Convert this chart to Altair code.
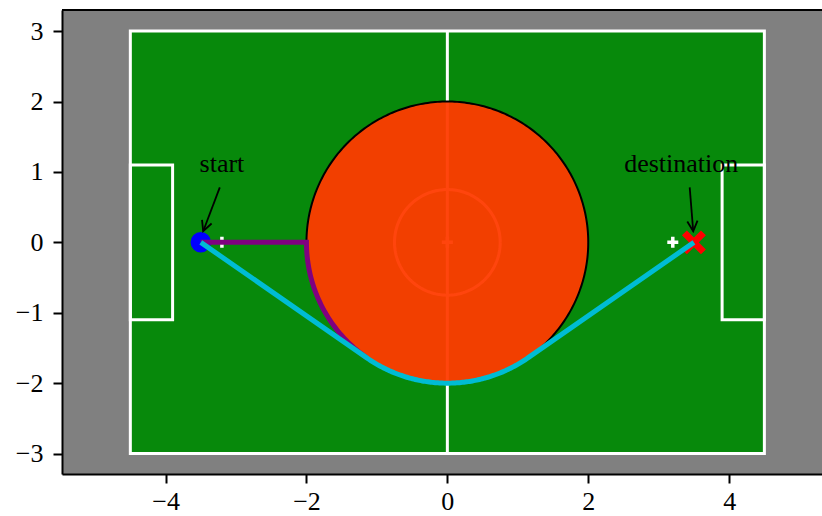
import math

import altair as alt
import numpy as np
import pandas as pd

# ---- pitch geometry (metres) ----
field_x = [-4.5, 4.5]
field_y = [-3.0, 3.0]
goal_box_x0 = [-4.5, 3.9]
goal_box_x1 = [-3.9, 4.5]
goal_box_y = [-1.1, 1.1]
centre_circle_radius = 0.75
spot_x = [-3.2, 0.0, 3.2]
spot_y = [0.0, 0.0, 0.0]

# ---- obstacle and route endpoints ----
obstacle_centre = (0.0, 0.0)
obstacle_radius = 2.0
start_xy = (-3.5, 0.0)
goal_xy = (3.5, 0.0)
contact_xy = (-2.0, 0.0)  # where the straight route runs into the obstacle

# ---- annotations ----
label_text = ["start", "destination"]
label_x = [-3.2, 3.32]
label_y = [1.0, 1.0]
arrow_tail_x = [-3.23, 3.44]
arrow_tail_y = [0.78, 0.78]
arrow_tip_x = [-3.466, 3.49]
arrow_tip_y = [0.158, 0.158]

x_ticks = [-4, -2, 0, 2, 4]
y_ticks = [-3, -2, -1, 0, 1, 2, 3]
x_domain = [-5.47, 5.318]
y_domain = [-3.29, 3.30]

W, H = 760, 464
FONT = "Liberation Serif"

X_SCALE = alt.Scale(domain=x_domain, nice=False, zero=False)
Y_SCALE = alt.Scale(domain=y_domain, nice=False, zero=False)
X_AXIS = alt.Axis(values=x_ticks, title=None, labelPadding=5)
Y_AXIS = alt.Axis(values=y_ticks, title=None, labelPadding=10)


def xq(field):
    return alt.X(f"{field}:Q", scale=X_SCALE, axis=X_AXIS)


def yq(field):
    return alt.Y(f"{field}:Q", scale=Y_SCALE, axis=Y_AXIS)


def arc_points(cx, cy, r, a0, a1, n=120):
    t = np.radians(np.linspace(a0, a1, n))
    return list(cx + r * np.cos(t)), list(cy + r * np.sin(t))


def path_frame(xs, ys):
    return pd.DataFrame({"x": xs, "y": ys, "i": range(len(xs))})


def xy_enc(**extra):
    return dict(x=xq("x"), y=yq("y"), **extra)


def rect_enc():
    return dict(x=xq("x"), x2="x2:Q", y=yq("y"), y2="y2:Q")


# tangent angles from the obstacle centre to the start / goal
cx, cy = obstacle_centre
d_start = math.hypot(start_xy[0] - cx, start_xy[1] - cy)
d_goal = math.hypot(goal_xy[0] - cx, goal_xy[1] - cy)
a_start = math.degrees(math.atan2(start_xy[1] - cy, start_xy[0] - cx)) % 360
a_goal = math.degrees(math.atan2(goal_xy[1] - cy, goal_xy[0] - cx)) % 360 or 360.0
t_start = a_start + math.degrees(math.acos(obstacle_radius / d_start))
t_goal = a_goal - math.degrees(math.acos(obstacle_radius / d_goal))

# smooth route: tangent -> arc around obstacle -> tangent
ax_, ay_ = arc_points(cx, cy, obstacle_radius, t_start, t_goal)
smooth = path_frame([start_xy[0]] + ax_ + [goal_xy[0]], [start_xy[1]] + ay_ + [goal_xy[1]])

# naive route: straight to the obstacle, then sliding along its edge
bx_, by_ = arc_points(cx, cy, obstacle_radius, a_start, t_start, 60)
naive = path_frame([start_xy[0], contact_xy[0]] + bx_, [start_xy[1], contact_xy[1]] + by_)

# ---------------- layers ----------------
pitch = pd.DataFrame({"x": [field_x[0]], "x2": [field_x[1]], "y": [field_y[0]], "y2": [field_y[1]]})
boxes = pd.DataFrame(
    {"x": goal_box_x0, "x2": goal_box_x1, "y": [goal_box_y[0]] * 2, "y2": [goal_box_y[1]] * 2}
)

grass = alt.Chart(pitch).mark_rect(color="#07890b").encode(**rect_enc())
outline = alt.Chart(pitch).mark_rect(fillOpacity=0, stroke="white", strokeWidth=3).encode(**rect_enc())
goal_boxes = alt.Chart(boxes).mark_rect(fillOpacity=0, stroke="white", strokeWidth=3).encode(**rect_enc())

halfway = alt.Chart(
    pd.DataFrame({"x": [0.0], "y": [field_y[0]], "y2": [field_y[1]]})
).mark_rule(color="white", strokeWidth=3).encode(x=xq("x"), y=yq("y"), y2="y2:Q")

ccx, ccy = arc_points(0.0, 0.0, centre_circle_radius, 0, 360, 180)
centre_circle = alt.Chart(path_frame(ccx, ccy)).mark_line(color="white", strokeWidth=3).encode(
    **xy_enc(order="i:Q")
)

PLUS = "M-1,0L1,0M0,-1L0,1"
spots = alt.Chart(pd.DataFrame({"x": spot_x, "y": spot_y})).mark_point(
    shape=PLUS, size=121, color="white", strokeWidth=3.5, opacity=1
).encode(**xy_enc())

th = np.radians(np.linspace(0, 180, 361))
obst_df = pd.DataFrame(
    {
        "x": cx + obstacle_radius * np.cos(th),
        "y": cy + obstacle_radius * np.sin(th),
        "y2": cy - obstacle_radius * np.sin(th),
    }
)
obstacle = alt.Chart(obst_df).mark_area(color="#ff3b00", opacity=0.95).encode(
    x=xq("x"), y=yq("y"), y2="y2:Q"
)
ox, oy = arc_points(cx, cy, obstacle_radius, 0, 360, 361)
obstacle_edge = alt.Chart(path_frame(ox, oy)).mark_line(color="black", strokeWidth=2).encode(
    **xy_enc(order="i:Q")
)

start_pt = alt.Chart(pd.DataFrame({"x": [start_xy[0]], "y": [start_xy[1]]})).mark_point(
    shape="circle", filled=True, size=420, color="#0000ff", opacity=1
).encode(**xy_enc())

CROSS = "M-1,-1L1,1M-1,1L1,-1"
goal_pt = alt.Chart(pd.DataFrame({"x": [goal_xy[0]], "y": [goal_xy[1]]})).mark_point(
    shape=CROSS, size=361, color="#ff0000", strokeWidth=7, opacity=1
).encode(**xy_enc())

naive_line = alt.Chart(naive).mark_line(color="#800080", strokeWidth=5).encode(**xy_enc(order="i:Q"))
smooth_line = alt.Chart(smooth).mark_line(color="#00bcd4", strokeWidth=5).encode(**xy_enc(order="i:Q"))

# annotation arrows
arrow_df = pd.DataFrame(
    {"x": arrow_tail_x, "y": arrow_tail_y, "x2": arrow_tip_x, "y2": arrow_tip_y}
)
arrow_df["angle"] = [
    math.degrees(math.atan2(x2 - x1, y2 - y1)) % 360
    for x1, y1, x2, y2 in zip(arrow_tail_x, arrow_tail_y, arrow_tip_x, arrow_tip_y)
]
arrow_shaft = alt.Chart(arrow_df).mark_rule(color="black", strokeWidth=1.8).encode(**rect_enc())
HEAD = "M-0.5,1L0,0L0.5,1"
arrow_head = alt.Chart(arrow_df).mark_point(
    shape=HEAD, size=420, color="black", strokeWidth=1.8, opacity=1
).encode(
    x=xq("x2"),
    y=yq("y2"),
    angle=alt.Angle("angle:Q", scale=None),
)

labels = alt.Chart(pd.DataFrame({"x": label_x, "y": label_y, "t": label_text})).mark_text(
    font=FONT, fontSize=26, color="black", align="center", baseline="alphabetic"
).encode(**xy_enc(text="t:N"))

top_frame = alt.Chart(pd.DataFrame({"a": [0]})).mark_rule(color="black", strokeWidth=2).encode(
    x=alt.value(0), x2=alt.value(W + 2), y=alt.value(0)
)

chart = (
    alt.layer(
        grass,
        outline,
        goal_boxes,
        halfway,
        centre_circle,
        spots,
        obstacle,
        obstacle_edge,
        start_pt,
        goal_pt,
        naive_line,
        smooth_line,
        arrow_shaft,
        arrow_head,
        labels,
        top_frame,
    )
    .properties(
        width=W,
        height=H,
        autosize=alt.AutoSizeParams(type="none"),
        padding={"left": 62, "top": 10, "right": 0, "bottom": 42},
    )
    .configure(background="white")
    .configure_view(fill="#808080", stroke="transparent")
    .configure_axis(
        labelFont=FONT,
        labelFontSize=26,
        labelColor="black",
        labelOverlap=False,
        labelFlush=False,
        tickColor="black",
        tickSize=9,
        tickWidth=2,
        domainColor="black",
        domainWidth=2,
        grid=False,
    )
)

chart.save("out.html", embed_options={"renderer": "svg", "actions": False})
